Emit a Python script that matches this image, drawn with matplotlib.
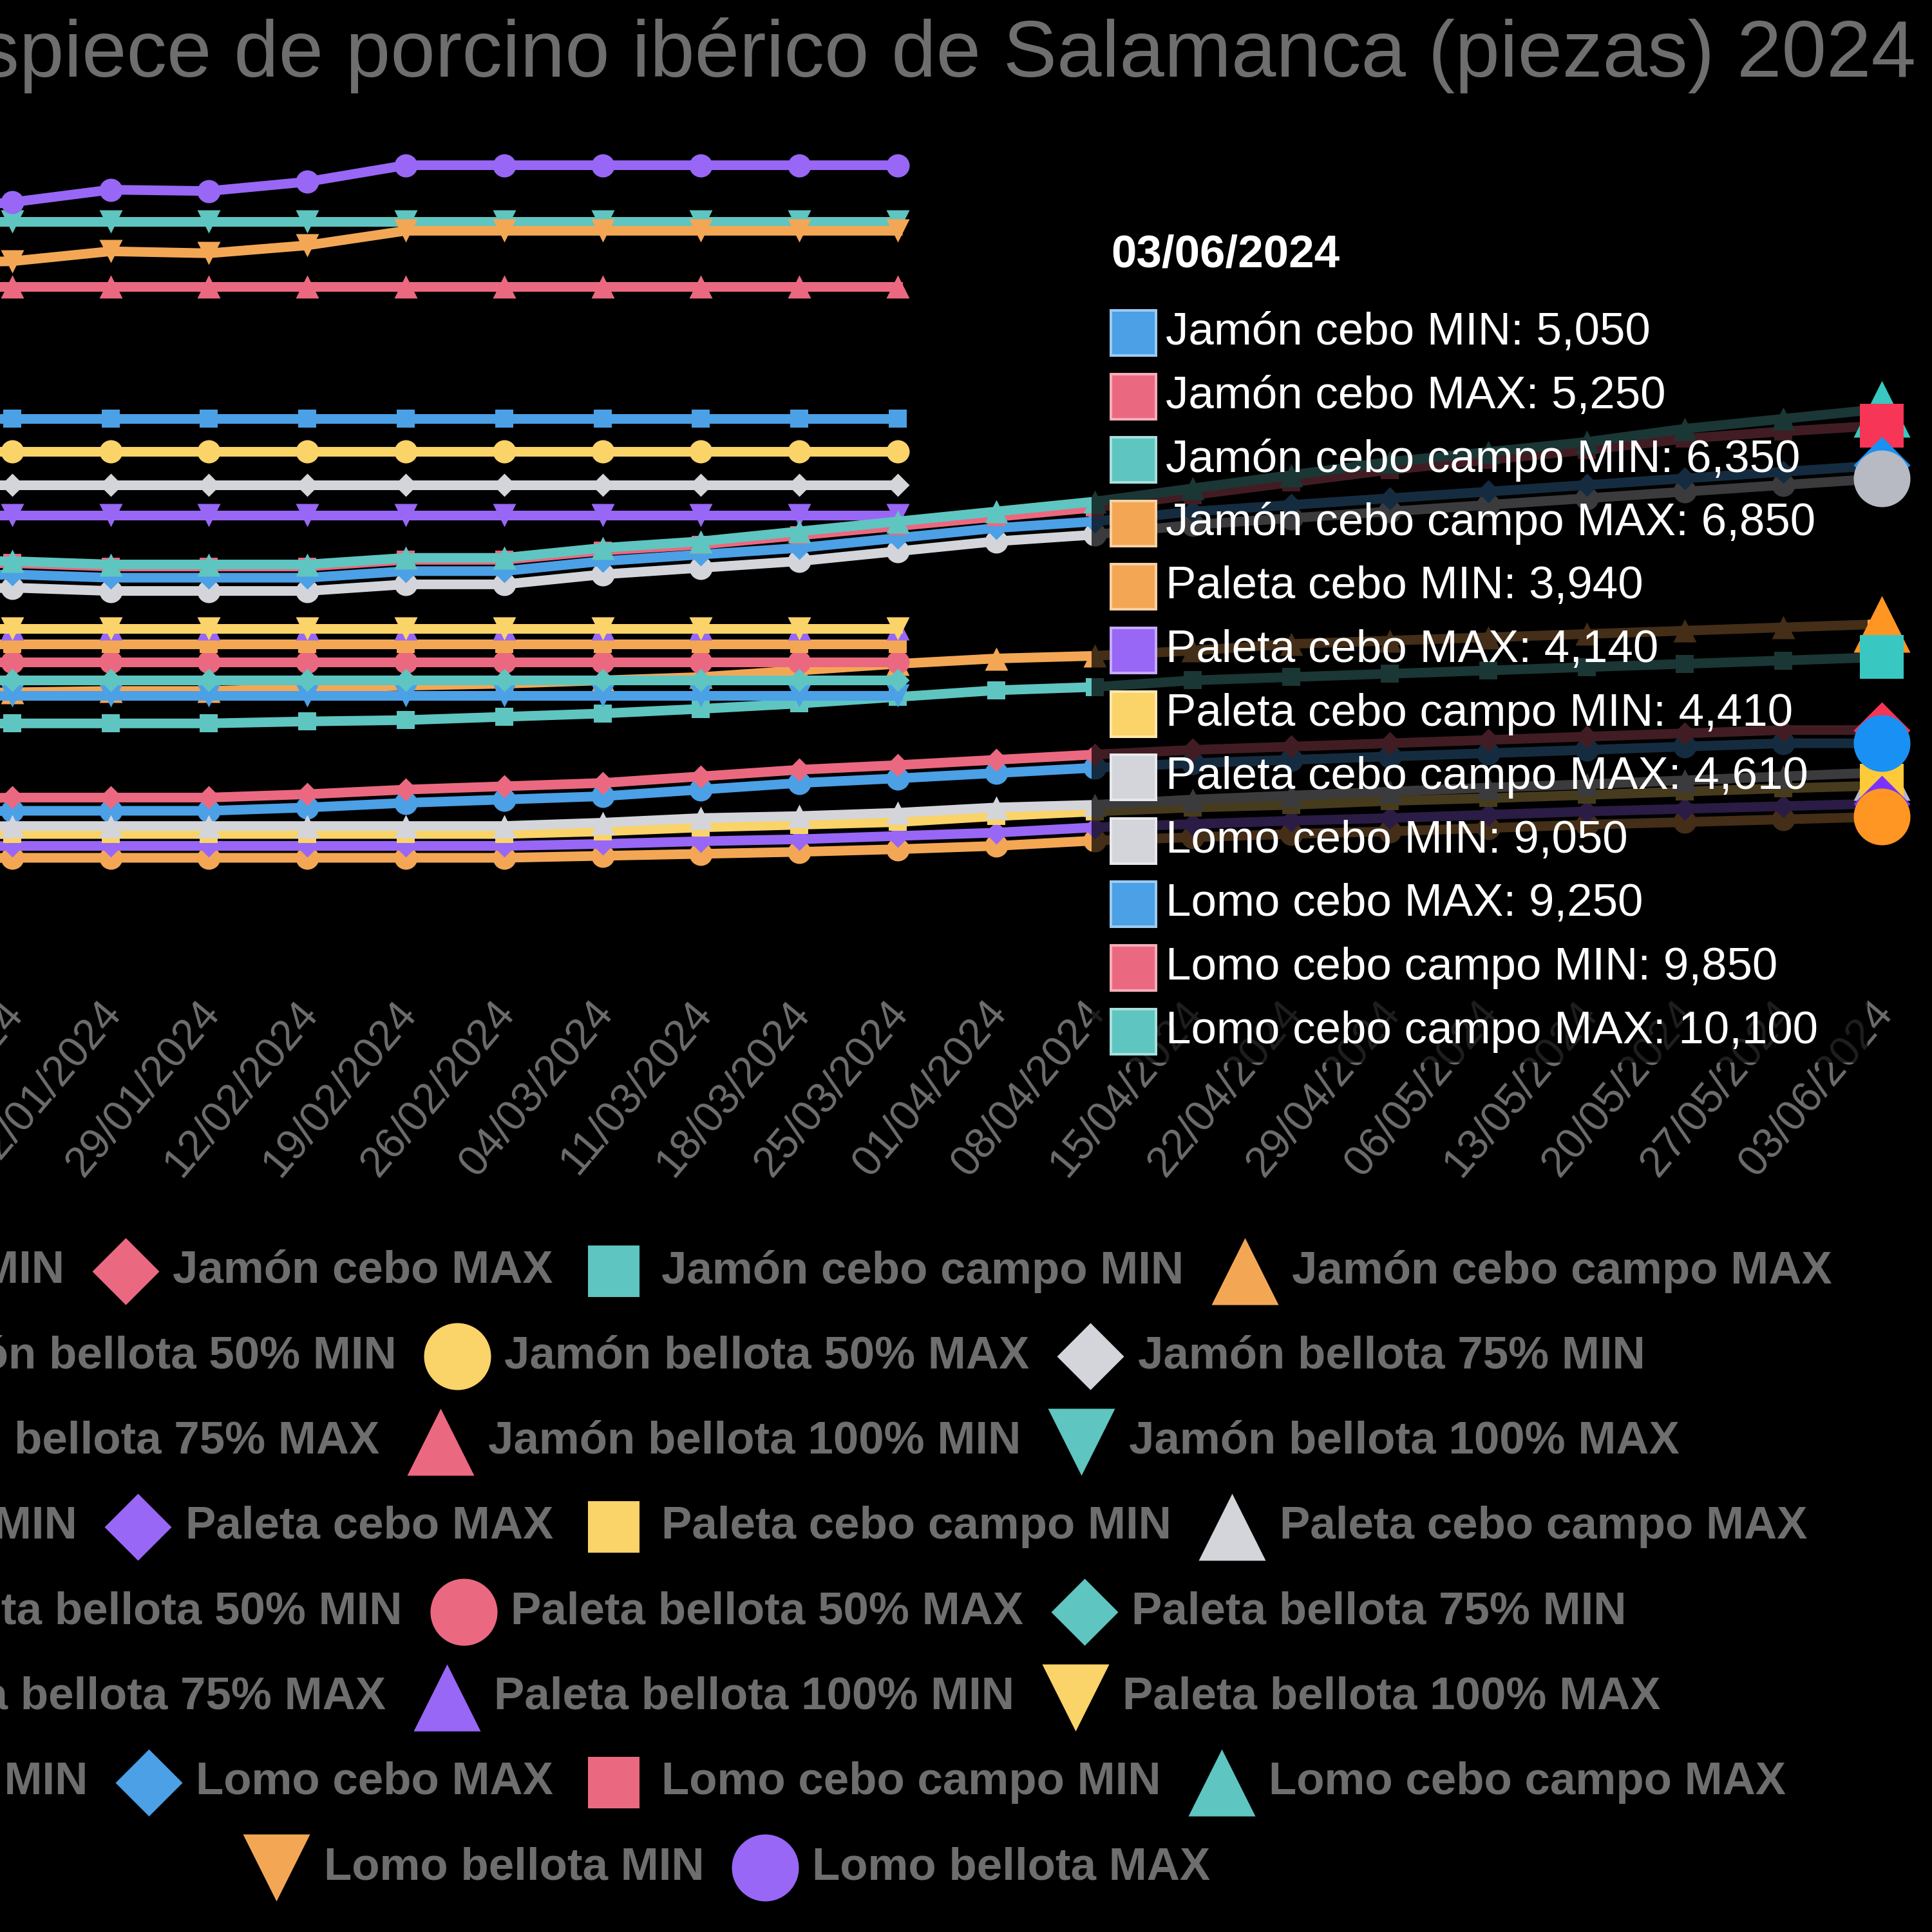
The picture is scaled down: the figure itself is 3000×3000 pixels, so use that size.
import colorsys
import matplotlib
matplotlib.use("Agg")
import matplotlib.pyplot as plt
import matplotlib.colors as mcolors
from matplotlib.lines import Line2D
from matplotlib.patches import FancyBboxPatch, Rectangle
from matplotlib.transforms import ScaledTranslation

plt.rcParams['font.family'] = ['Liberation Sans', 'DejaVu Sans']

# ---------------- data ----------------
dates = ['08/01/2024', '15/01/2024', '22/01/2024', '29/01/2024', '12/02/2024',
         '19/02/2024', '26/02/2024', '04/03/2024', '11/03/2024', '18/03/2024',
         '25/03/2024', '01/04/2024', '08/04/2024', '15/04/2024', '22/04/2024',
         '29/04/2024', '06/05/2024', '13/05/2024', '20/05/2024', '27/05/2024',
         '03/06/2024']

names = ['Jamón cebo MIN', 'Jamón cebo MAX', 'Jamón cebo campo MIN', 'Jamón cebo campo MAX',
         'Jamón bellota 50% MIN', 'Jamón bellota 50% MAX', 'Jamón bellota 75% MIN',
         'Jamón bellota 75% MAX', 'Jamón bellota 100% MIN', 'Jamón bellota 100% MAX',
         'Paleta cebo MIN', 'Paleta cebo MAX', 'Paleta cebo campo MIN', 'Paleta cebo campo MAX',
         'Paleta bellota 50% MIN', 'Paleta bellota 50% MAX', 'Paleta bellota 75% MIN',
         'Paleta bellota 75% MAX', 'Paleta bellota 100% MIN', 'Paleta bellota 100% MAX',
         'Lomo cebo MIN', 'Lomo cebo MAX', 'Lomo cebo campo MIN', 'Lomo cebo campo MAX',
         'Lomo bellota MIN', 'Lomo bellota MAX']

jamon_cebo_min = [4000, 4030, 4030, 4030, 4080, 4150, 4200, 4250, 4350, 4450, 4520,
                  4600, 4680, 4750, 4800, 4850, 4900, 4950, 5000, 5050, 5050]
jamon_cebo_max = [4200, 4230, 4230, 4230, 4280, 4350, 4400, 4450, 4550, 4650, 4720,
                  4800, 4880, 4950, 5000, 5050, 5100, 5150, 5200, 5250, 5250]
jamon_cebo_campo_min = [5330, 5350, 5350, 5350, 5380, 5400, 5450, 5500, 5570, 5650, 5750,
                        5850, 5900, 6000, 6050, 6100, 6150, 6200, 6250, 6300, 6350]
jamon_cebo_campo_max = [5800, 5820, 5840, 5840, 5880, 5920, 5950, 6000, 6050, 6150, 6250,
                        6330, 6370, 6450, 6550, 6600, 6650, 6700, 6750, 6800, 6850]
jamon_bellota_50_min = [8490, 8490, 8490, 8490, 8490, 8490, 8490, 8490, 8490, 8490, 8490]
jamon_bellota_50_max = [9460, 9460, 9460, 9460, 9460, 9460, 9460, 9460, 9460, 9460, 9460]
jamon_bellota_75_min = [8950, 8950, 8950, 8950, 8950, 8950, 8950, 8950, 8950, 8950, 8950]
jamon_bellota_75_max = [9950, 9950, 9950, 9950, 9950, 9950, 9950, 9950, 9950, 9950, 9950]
jamon_bellota_100_min = [11950, 11950, 11950, 11950, 11950, 11950, 11950, 11950, 11950, 11950, 11950]
jamon_bellota_100_max = [12930, 12930, 12930, 12930, 12930, 12930, 12930, 12930, 12930, 12930, 12930]
paleta_cebo_min = [3300, 3320, 3320, 3320, 3320, 3320, 3320, 3350, 3380, 3410, 3450,
                   3500, 3580, 3630, 3680, 3720, 3770, 3820, 3860, 3900, 3940]
paleta_cebo_max = [3480, 3500, 3500, 3500, 3500, 3500, 3500, 3530, 3570, 3600, 3650,
                   3700, 3780, 3830, 3880, 3920, 3970, 4020, 4060, 4100, 4140]
paleta_cebo_campo_min = [3660, 3680, 3680, 3680, 3680, 3680, 3680, 3720, 3780, 3820, 3860,
                         3950, 4020, 4080, 4120, 4180, 4220, 4270, 4320, 4370, 4410]
paleta_cebo_campo_max = [3780, 3800, 3800, 3800, 3800, 3800, 3800, 3850, 3920, 3950, 4000,
                         4080, 4120, 4200, 4260, 4320, 4380, 4430, 4490, 4550, 4610]
paleta_bellota_50_min = [5770, 5770, 5770, 5770, 5770, 5770, 5770, 5770, 5770, 5770, 5770]
paleta_bellota_50_max = [6280, 6280, 6280, 6280, 6280, 6280, 6280, 6280, 6280, 6280, 6280]
paleta_bellota_75_min = [6000, 6000, 6000, 6000, 6000, 6000, 6000, 6000, 6000, 6000, 6000]
paleta_bellota_75_max = [6550, 6550, 6550, 6550, 6550, 6550, 6550, 6550, 6550, 6550, 6550]
paleta_bellota_100_min = [6780, 6780, 6780, 6780, 6780, 6780, 6780, 6780, 6780, 6780, 6780]
paleta_bellota_100_max = [6780, 6780, 6780, 6780, 6780, 6780, 6780, 6780, 6780, 6780, 6780]
lomo_cebo_min = [7350, 7400, 7350, 7350, 7350, 7450, 7450, 7600, 7700, 7800, 7950,
                 8100, 8200, 8350, 8450, 8550, 8650, 8750, 8850, 8950, 9050]
lomo_cebo_max = [7550, 7600, 7550, 7550, 7550, 7650, 7650, 7800, 7900, 8000, 8150,
                 8300, 8400, 8550, 8650, 8750, 8850, 8950, 9050, 9150, 9250]
lomo_cebo_campo_min = [7770, 7770, 7720, 7720, 7720, 7820, 7820, 7960, 8050, 8190, 8330,
                       8470, 8610, 8800, 8990, 9180, 9330, 9480, 9650, 9760, 9850]
lomo_cebo_campo_max = [7800, 7800, 7750, 7750, 7750, 7850, 7850, 8000, 8100, 8250, 8400,
                       8550, 8700, 8900, 9100, 9300, 9450, 9600, 9800, 9950, 10100]
lomo_bellota_min = [12300, 12330, 12480, 12450, 12570, 12790, 12790, 12790, 12790, 12790, 12790]
lomo_bellota_max = [13100, 13220, 13410, 13390, 13530, 13780, 13780, 13780, 13780, 13780, 13780]

series_values = [jamon_cebo_min, jamon_cebo_max, jamon_cebo_campo_min, jamon_cebo_campo_max,
                 jamon_bellota_50_min, jamon_bellota_50_max, jamon_bellota_75_min,
                 jamon_bellota_75_max, jamon_bellota_100_min, jamon_bellota_100_max,
                 paleta_cebo_min, paleta_cebo_max, paleta_cebo_campo_min, paleta_cebo_campo_max,
                 paleta_bellota_50_min, paleta_bellota_50_max, paleta_bellota_75_min,
                 paleta_bellota_75_max, paleta_bellota_100_min, paleta_bellota_100_max,
                 lomo_cebo_min, lomo_cebo_max, lomo_cebo_campo_min, lomo_cebo_campo_max,
                 lomo_bellota_min, lomo_bellota_max]

title = 'Precio de despiece de porcino ibérico de Salamanca (piezas) 2024'

palette = ['#4ba0e6', '#eb6980', '#5fc5c0', '#f3a755', '#9867f5', '#fad369', '#d4d5da']
symbol_cycle = ['circle', 'diamond', 'rect', 'triangle', 'down']
legend_rows = [4, 3, 3, 4, 3, 3, 4, 2]

# ---------------- layout helpers ----------------
W, H, DPI = 3000, 3000, 100
PT = 72 / DPI  # points per pixel
GRAY = '#6e6e6e'


def fx(px):
    return px / W


def fy(py):
    return 1 - py / H


shapes = {
    'circle': 'o',
    'diamond': [(0, 1), (1, 0), (0, -1), (-1, 0)],
    'rect': 's',
    'triangle': [(0, 1), (1, -1), (-1, -1)],
    'down': [(0, -1), (1, 1), (-1, 1)],
}


def msize(sym, px):
    return px * PT * (0.77 if sym == 'rect' else 1.0)


def emph(c):
    r, g, b = mcolors.to_rgb(c)
    h, l, s = colorsys.rgb_to_hls(r, g, b)
    return colorsys.hls_to_rgb(h, l * 0.88, min(1.0, s * 1.2))


def lighten(c, f=0.45):
    r, g, b = mcolors.to_rgb(c)
    return (r + (1 - r) * f, g + (1 - g) * f, b + (1 - b) * f)


colors = [palette[i % len(palette)] for i in range(len(names))]
symbols = [symbol_cycle[i % len(symbol_cycle)] for i in range(len(names))]

fig = plt.figure(figsize=(W / DPI, H / DPI), dpi=DPI, facecolor='black')

# plot area (the left part of the chart lies outside the picture)
n = len(dates)
x_first, step = -134, 152.8
y_bottom, y_top = 1540, 200
v_bottom, v_top = 1297, 14330
pos = [fx(x_first), fy(y_bottom), step * (n - 1) / W, (y_bottom - y_top) / H]
ax = fig.add_axes(pos)
ax.set_facecolor('black')
ax.set_xlim(0, n - 1)
ax.set_ylim(v_bottom, v_top)
for s in ax.spines.values():
    s.set_visible(False)
ax.set_yticks([])
ax.set_xticks(range(n))
ax.set_xticklabels(dates, rotation=50, ha='right', va='top', rotation_mode='anchor',
                   color=GRAY, fontsize=48)
ax.tick_params(axis='x', length=0, pad=2)
shift = ScaledTranslation(-18 / DPI, 0, fig.dpi_scale_trans)
for lab in ax.get_xticklabels():
    lab.set_transform(lab.get_transform() + shift)

for i, vals in enumerate(series_values):
    ax.plot(range(len(vals)), vals, color=colors[i], lw=15 * PT,
            marker=shapes[symbols[i]], ms=msize(symbols[i], 36),
            mfc=colors[i], mec=colors[i], mew=0, clip_on=False,
            solid_joinstyle='round', zorder=2 + i * 0.01)

# hovered points (last date) stay bright above the tooltip
ax2 = fig.add_axes(pos)
ax2.set_zorder(6)
ax2.patch.set_visible(False)
ax2.set_xlim(0, n - 1)
ax2.set_ylim(v_bottom, v_top)
ax2.axis('off')
for i, vals in enumerate(series_values):
    if len(vals) == n:
        ax2.plot([n - 1], [vals[-1]], linestyle='none', marker=shapes[symbols[i]],
                 ms=msize(symbols[i], 88), mfc=emph(colors[i]), mew=0, clip_on=False,
                 zorder=3 - i * 0.01)

# title
fig.text(fx(2975), fy(119), title, ha='right', va='baseline', fontsize=90, color=GRAY)

# tooltip
box = FancyBboxPatch((fx(1695), fy(1650)), (2900 - 1695) / W, (1650 - 345) / H,
                     boxstyle='round,pad=0,rounding_size=0.004', transform=fig.transFigure,
                     facecolor=(0, 0, 0, 0.72), edgecolor='none', zorder=5)
fig.add_artist(box)
fig.text(fx(1725), fy(396), dates[-1], ha='left', va='center', fontsize=51,
         fontweight='bold', color='white', zorder=7)
row = 0
for i, vals in enumerate(series_values):
    if len(vals) != n:
        continue
    yc = 517 + 98.6 * row
    sw = Rectangle((fx(1725), fy(yc + 35)), 70 / W, 70 / H, transform=fig.transFigure,
                   facecolor=colors[i], edgecolor=lighten(colors[i]), lw=4 * PT, zorder=7)
    fig.add_artist(sw)
    fig.text(fx(1810), fy(yc), f'{names[i]}: {vals[-1]:,}', ha='left', va='center',
             fontsize=51, color='white', zorder=7)
    row += 1

# legend (centred rows, wrapped like the original)
renderer = fig.canvas.get_renderer()
legend_cx = 1128
icon_box, icon_gap, item_gap = 105, 21, 42
k = 0
for r, cnt in enumerate(legend_rows):
    yc = 1974 + 132.3 * r
    items = list(range(k, k + cnt))
    k += cnt
    texts = []
    total = 0
    for i in items:
        t = fig.text(0, 0, names[i], fontsize=51, fontweight='bold', color=GRAY,
                     ha='left', va='center')
        w = t.get_window_extent(renderer).width
        texts.append((t, w))
        total += icon_box + icon_gap + w
    total += item_gap * (cnt - 1)
    x = legend_cx - total / 2
    for i, (t, w) in zip(items, texts):
        fig.add_artist(Line2D([fx(x + icon_box / 2)], [fy(yc)], transform=fig.transFigure,
                              linestyle='none', marker=shapes[symbols[i]],
                              ms=msize(symbols[i], 104), mfc=colors[i], mew=0))
        t.set_position((fx(x + icon_box + icon_gap), fy(yc)))
        x += icon_box + icon_gap + w + item_gap

fig.savefig('out.png', dpi=DPI, facecolor='black')
